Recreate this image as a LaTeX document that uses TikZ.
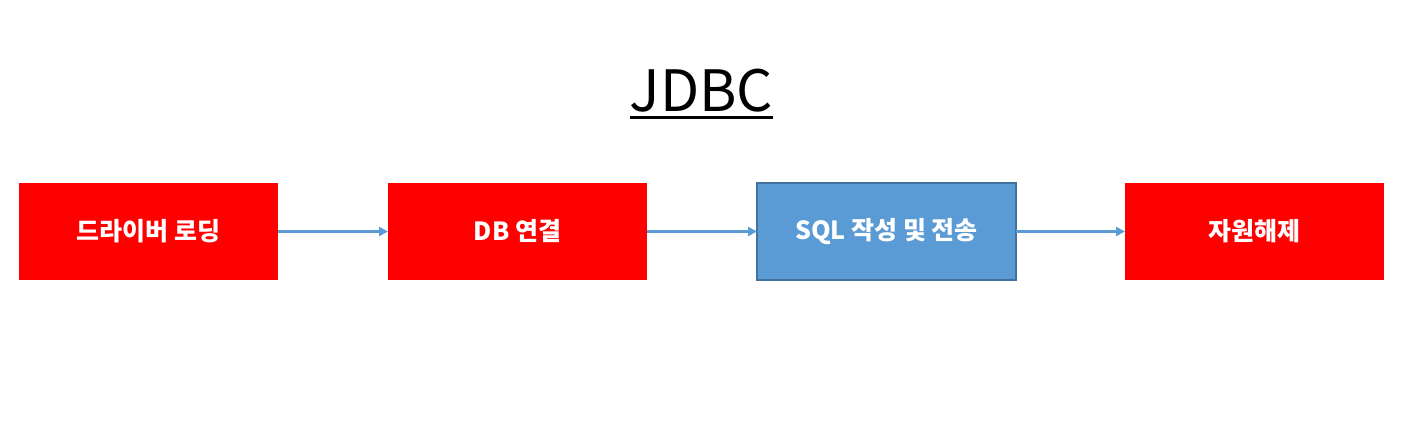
\documentclass[tikz,border=0pt]{standalone}
\usepackage{fontspec}
\newfontfamily\kr{Noto Sans CJK KR}
\usetikzlibrary{arrows.meta}
\definecolor{boxred}{HTML}{FF0000}
\definecolor{boxblue}{HTML}{5B9BD5}
\definecolor{boxborder}{HTML}{41719C}
\definecolor{arrowblue}{HTML}{5B9BD5}
\tikzset{
  stepbox/.style={minimum width=259pt, minimum height=97pt, inner sep=0pt, outer sep=0pt,
    text=white, font=\kr\bfseries\fontsize{25}{30}\selectfont, anchor=center},
  redbox/.style={stepbox, fill=boxred},
  bluebox/.style={stepbox, fill=boxblue, draw=boxborder, line width=1.5pt},
  conn/.style={draw=arrowblue, line width=2.6pt, -{Triangle[length=9pt,width=9pt]}}
}
\begin{document}
\begin{tikzpicture}[x=1pt,y=-1pt]
\useasboundingbox (0,0) rectangle (1408,446);
\node[font=\kr\fontsize{57}{63}\selectfont, inner sep=0pt, anchor=base] (title) at (701.5,112) {JDBC};
\draw[line width=3pt] (title.base west |- 0,118) coordinate (ul1) -- (title.base east |- 0,118) coordinate (ul2);
\node[redbox] (b1) at (148.5,231.5) {드라이버 로딩};
\node[redbox] (b2) at (517.5,231.5) {DB 연결};
\node[bluebox] (b3) at (886.5,231.5) {SQL 작성 및 전송};
\node[redbox] (b4) at (1254.5,231.5) {자원해제};
\draw[conn] (b1.east) -- (b2.west);
\draw[conn] (b2.east) -- (b3.west);
\draw[conn] (b3.east) -- (b4.west);
\end{tikzpicture}
\end{document}
